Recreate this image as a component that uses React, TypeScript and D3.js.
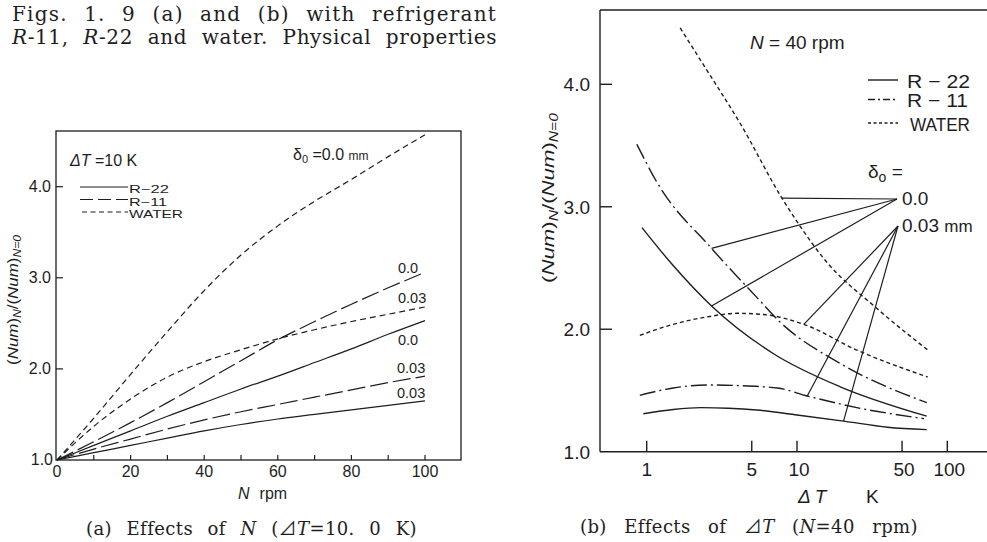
import React, { useLayoutEffect, useRef, useState } from 'react';
import * as d3 from 'd3';

// ---------- Panel (a): effects of N (ΔT = 10 K) ----------
const nRpm = [0, 10, 20, 30, 40, 50, 60, 70, 80, 90, 100];
const waterA_00 = [1.0, 1.46, 1.94, 2.41, 2.86, 3.25, 3.57, 3.84, 4.08, 4.33, 4.57];
const waterA_03 = [1.0, 1.37, 1.67, 1.91, 2.08, 2.21, 2.33, 2.43, 2.52, 2.6, 2.68];
const r11A_00 = [1.0, 1.2, 1.41, 1.63, 1.86, 2.09, 2.32, 2.52, 2.71, 2.89, 3.06];
const r22A_00 = [1.0, 1.16, 1.32, 1.48, 1.63, 1.78, 1.92, 2.07, 2.22, 2.38, 2.53];
const r11A_03 = [1.0, 1.12, 1.23, 1.34, 1.44, 1.53, 1.61, 1.69, 1.77, 1.85, 1.92];
const r22A_03 = [1.0, 1.08, 1.16, 1.24, 1.32, 1.39, 1.45, 1.5, 1.55, 1.6, 1.65];
const xTickLabelsA = [0, 20, 40, 60, 80, 100];
const xMinorTicksA = [10, 20, 30, 40, 50, 60, 70, 80, 90, 100];
const yTicksA = [1, 2, 3, 4];

// ---------- Panel (b): effects of ΔT (N = 40 rpm) ----------
const dTWaterB_00 = [1.67, 2.5, 4.19, 7.94, 10.5, 15, 34, 76];
const waterB_00 = [4.46, 4.12, 3.68, 3.07, 2.84, 2.58, 2.17, 1.82];
const dTWaterB_03 = [0.9, 1.5, 2.5, 4, 6, 11.1, 25, 74];
const waterB_03 = [1.95, 2.04, 2.1, 2.13, 2.12, 2.04, 1.83, 1.61];
const dTR11B_00 = [0.86, 1.17, 2.7, 5.5, 7.7, 19.4, 73];
const r11B_00 = [3.51, 3.2, 2.66, 2.25, 2.06, 1.72, 1.4];
const dTR22B_00 = [0.93, 1.5, 2.7, 6.98, 19.4, 73];
const r22B_00 = [2.83, 2.52, 2.19, 1.8, 1.53, 1.29];
const dTR11B_03 = [0.9, 1.5, 2.5, 4, 7.4, 11.7, 25, 70];
const r11B_03 = [1.46, 1.52, 1.545, 1.54, 1.52, 1.455, 1.36, 1.27];
const dTR22B_03 = [0.95, 1.5, 2.3, 3.5, 5.4, 10, 20.4, 40, 73];
const r22B_03 = [1.31, 1.345, 1.36, 1.355, 1.34, 1.3, 1.25, 1.2, 1.18];
const xTicksB = [1, 5, 10, 50, 100];
const yTicksB = [1, 2, 3, 4];
// leader-line targets (ΔT where each leader meets its curve)
const leaderDT_00 = [7.94, 2.7, 2.7];
const leaderDT_03 = [11.1, 11.7, 20.4];

const INK = '#1e1e1e';
const SANS = "'Liberation Sans', Arial, sans-serif";
const SERIF = "'DejaVu Serif', 'Liberation Serif', 'Noto Sans CJK JP', serif";

function zip(xs: number[], ys: number[]): [number, number][] {
  return xs.map((x, i) => [x, ys[i]]);
}

function interpLog(xs: number[], ys: number[], x: number): number {
  for (let i = 0; i < xs.length - 1; i++) {
    if (x >= xs[i] && x <= xs[i + 1]) {
      const t = (Math.log(x) - Math.log(xs[i])) / (Math.log(xs[i + 1]) - Math.log(xs[i]));
      return ys[i] + t * (ys[i + 1] - ys[i]);
    }
  }
  return ys[ys.length - 1];
}

function Justified(props: {
  x: number;
  y: number;
  width: number;
  fontSize: number;
  letterSpacing?: number;
  children: React.ReactNode;
}) {
  const ref = useRef<SVGTextElement>(null);
  const [ws, setWs] = useState(0);
  const ls = props.letterSpacing || 0;
  useLayoutEffect(() => {
    const el = ref.current;
    if (!el) return;
    el.style.wordSpacing = '0px';
    const len = el.getComputedTextLength();
    const spaces = (el.textContent || '').trim().split(/\s+/).length - 1;
    if (spaces > 0) setWs(Math.max(0, (props.width - len) / spaces));
  }, [props.width]);
  return (
    <text
      ref={ref}
      x={props.x}
      y={props.y}
      fill={INK}
      fontFamily={SERIF}
      fontSize={props.fontSize}
      style={{ wordSpacing: `${ws}px`, letterSpacing: `${ls}px` }}
    >
      {props.children}
    </text>
  );
}

export default function App() {
  // scales panel (a)
  const xA = d3.scaleLinear().domain([0, 100]).range([57, 425]);
  const yA = d3.scaleLinear().domain([1, 4]).range([460, 186.7]);
  const lineA = d3
    .line<[number, number]>()
    .x((d) => xA(d[0]))
    .y((d) => yA(d[1]))
    .curve(d3.curveMonotoneX);

  // scales panel (b)
  const xB = d3.scaleLog().domain([1, 100]).range([646.7, 947.3]);
  const yB = d3.scaleLinear().domain([1, 4]).range([451.7, 84.3]);
  const lineB = d3
    .line<[number, number]>()
    .x((d) => xB(d[0]))
    .y((d) => yB(d[1]))
    .curve(d3.curveMonotoneX);

  const seriesA = [
    { v: waterA_00, dash: '6,4' },
    { v: waterA_03, dash: '6,4' },
    { v: r11A_00, dash: '18,5' },
    { v: r22A_00, dash: '' },
    { v: r11A_03, dash: '18,5' },
    { v: r22A_03, dash: '' },
  ];

  const seriesB = [
    { x: dTWaterB_00, v: waterB_00, dash: '4,3' },
    { x: dTWaterB_03, v: waterB_03, dash: '4,3' },
    { x: dTR11B_00, v: r11B_00, dash: '16,4,2,4' },
    { x: dTR22B_00, v: r22B_00, dash: '' },
    { x: dTR11B_03, v: r11B_03, dash: '16,4,2,4' },
    { x: dTR22B_03, v: r22B_03, dash: '' },
  ];

  const leaders00 = [seriesB[0], seriesB[2], seriesB[3]].map((s, i) => [
    xB(leaderDT_00[i]),
    yB(interpLog(s.x, s.v, leaderDT_00[i])),
  ]);
  const leaders03 = [seriesB[1], seriesB[4], seriesB[5]].map((s, i) => [
    xB(leaderDT_03[i]),
    yB(interpLog(s.x, s.v, leaderDT_03[i])),
  ]);
  const anchor00 = [897, 199];
  const anchor03 = [898, 226];

  const frameA = { l: 56, t: 131, r: 461, b: 460 };
  const frameB = { l: 600, t: 10, b: 451.7, r: 990 };

  return (
    <svg
      width={987}
      height={542}
      viewBox="0 0 987 542"
      style={{ position: 'absolute', left: 0, top: 0, background: '#fff' }}
    >
      <rect x={0} y={0} width={987} height={542} fill="#fff" />

      {/* ---------- top paragraph text ---------- */}
      <Justified x={12} y={21} width={485} fontSize={20} letterSpacing={1.2}>
        Figs. 1. 9 (a) and (b) with refrigerant
      </Justified>
      <Justified x={12} y={44} width={485} fontSize={20} letterSpacing={0.6}>
        <tspan fontStyle="italic">R</tspan>-11, <tspan fontStyle="italic">R</tspan>-22 and water. Physical properties
      </Justified>

      {/* ================= Panel (a) ================= */}
      <g>
        <rect
          x={frameA.l}
          y={frameA.t}
          width={frameA.r - frameA.l}
          height={frameA.b - frameA.t}
          fill="none"
          stroke={INK}
          strokeWidth={1.3}
        />
        {xMinorTicksA.map((t) => (
          <line key={'xa' + t} x1={xA(t)} x2={xA(t)} y1={frameA.b} y2={frameA.b - 5} stroke={INK} strokeWidth={1.2} />
        ))}
        {yTicksA.filter((t) => t > 1).map((t) => (
          <line key={'ya' + t} x1={frameA.l} x2={frameA.l + 7} y1={yA(t)} y2={yA(t)} stroke={INK} strokeWidth={1.2} />
        ))}
        <g fill={INK} fontFamily={SANS} fontSize={16}>
          {xTickLabelsA.map((t) => (
            <text key={'xl' + t} x={xA(t)} y={477} textAnchor="middle">
              {t}
            </text>
          ))}
          {yTicksA.map((t) => (
            <text key={'yl' + t} x={t === 1 ? 53 : 51} y={t === 1 ? 465 : yA(t) + 5.5} textAnchor="end">
              {t.toFixed(1)}
            </text>
          ))}
          <text x={238} y={499}>
            <tspan fontStyle="italic">N</tspan>
            <tspan dx={10}>rpm</tspan>
          </text>
          <text
            transform={`translate(18,300) rotate(-90)`}
            textAnchor="middle"
            fontSize={14}
            textLength={130}
            lengthAdjust="spacingAndGlyphs"
          >
            (<tspan fontStyle="italic">Num</tspan>)<tspan fontSize={10} dy={3} fontStyle="italic">N</tspan>
            <tspan dy={-3}>/(</tspan>
            <tspan fontStyle="italic">Num</tspan>)<tspan fontSize={10} dy={3} fontStyle="italic">N=0</tspan>
          </text>
        </g>

        {/* curves */}
        {seriesA.map((s, i) => (
          <path
            key={'ca' + i}
            d={lineA(zip(nRpm, s.v)) || ''}
            fill="none"
            stroke={INK}
            strokeWidth={1.2}
            strokeDasharray={s.dash || undefined}
          />
        ))}

        {/* in-plot annotations */}
        <g fill={INK} fontFamily={SANS}>
          <text x={70} y={166} fontSize={16}>
            <tspan fontStyle="italic">Δ</tspan>
            <tspan fontStyle="italic">T</tspan> =10 K
          </text>
          <text x={293} y={160} fontSize={16}>
            δ<tspan fontSize={11} dy={3}>0</tspan>
            <tspan dy={-3}> =0.0 </tspan>
            <tspan fontSize={12}>mm</tspan>
          </text>
          <g fontSize={14.5}>
            <text x={398} y={273}>0.0</text>
            <text x={398} y={303}>0.03</text>
            <text x={398} y={345}>0.0</text>
            <text x={397} y={373}>0.03</text>
            <text x={397} y={398}>0.03</text>
          </g>
          {/* legend */}
          <line x1={80} x2={128} y1={187} y2={187} stroke={INK} strokeWidth={1.2} />
          <line x1={80} x2={128} y1={199.5} y2={199.5} stroke={INK} strokeWidth={1.2} strokeDasharray="13,5" />
          <line x1={82} x2={128} y1={212} y2={212} stroke={INK} strokeWidth={1.2} strokeDasharray="5,3.5" />
          <g fontSize={11.5}>
            <text x={129} y={193} textLength={40} lengthAdjust="spacingAndGlyphs">R−22</text>
            <text x={129} y={205.5} textLength={38} lengthAdjust="spacingAndGlyphs">R−11</text>
            <text x={129} y={218} textLength={54} lengthAdjust="spacingAndGlyphs">WATER</text>
          </g>
        </g>
      </g>

      {/* caption (a) */}
      <Justified x={86} y={535} width={331} fontSize={18} letterSpacing={0.4}>
        (a) Effects of <tspan fontStyle="italic">N</tspan> (⊿<tspan fontStyle="italic">T</tspan>=10. 0 K)
      </Justified>

      {/* ================= Panel (b) ================= */}
      <g>
        <line x1={frameB.l} x2={frameB.l} y1={frameB.t} y2={frameB.b} stroke={INK} strokeWidth={1.4} />
        <line x1={frameB.l} x2={frameB.r} y1={frameB.t} y2={frameB.t} stroke={INK} strokeWidth={1.4} />
        <line x1={frameB.l} x2={frameB.r} y1={frameB.b} y2={frameB.b} stroke={INK} strokeWidth={1.6} />
        {xTicksB.map((t) => (
          <line key={'xb' + t} x1={xB(t)} x2={xB(t)} y1={frameB.b} y2={frameB.b - 11} stroke={INK} strokeWidth={1.4} />
        ))}
        {yTicksB.filter((t) => t > 1).map((t) => (
          <line key={'yb' + t} x1={frameB.l} x2={frameB.l + 12} y1={yB(t)} y2={yB(t)} stroke={INK} strokeWidth={1.4} />
        ))}
        <g fill={INK} fontFamily={SANS} fontSize={19}>
          {xTicksB.map((t) => (
            <text key={'xbl' + t} x={xB(t) + (t >= 10 ? 2 : 0)} y={476} textAnchor="middle">
              {t}
            </text>
          ))}
          {yTicksB.map((t) => (
            <text key={'ybl' + t} x={590} y={yB(t) + 7} textAnchor="end">
              {t.toFixed(1)}
            </text>
          ))}
          <text x={798} y={503}>
            <tspan fontStyle="italic">Δ</tspan>
            <tspan dx={4} fontStyle="italic">T</tspan>
          </text>
          <text x={866} y={503}>K</text>
          <text
            transform={`translate(554,198) rotate(-90)`}
            textAnchor="middle"
            fontSize={17}
            textLength={170}
            lengthAdjust="spacingAndGlyphs"
          >
            (<tspan fontStyle="italic">Num</tspan>)<tspan fontSize={12} dy={4} fontStyle="italic">N</tspan>
            <tspan dy={-4}>/(</tspan>
            <tspan fontStyle="italic">Num</tspan>)<tspan fontSize={12} dy={4} fontStyle="italic">N=0</tspan>
          </text>
        </g>

        {/* curves */}
        {seriesB.map((s, i) => (
          <path
            key={'cb' + i}
            d={lineB(zip(s.x, s.v)) || ''}
            fill="none"
            stroke={INK}
            strokeWidth={1.4}
            strokeDasharray={s.dash || undefined}
          />
        ))}

        {/* leader lines */}
        {leaders00.map((p, i) => (
          <line key={'l0' + i} x1={anchor00[0]} y1={anchor00[1]} x2={p[0]} y2={p[1]} stroke={INK} strokeWidth={1.2} />
        ))}
        {leaders03.map((p, i) => (
          <line key={'l3' + i} x1={anchor03[0]} y1={anchor03[1]} x2={p[0]} y2={p[1]} stroke={INK} strokeWidth={1.2} />
        ))}

        <g fill={INK} fontFamily={SANS} fontSize={19}>
          <text x={750} y={49}>
            <tspan fontStyle="italic">N</tspan> = 40 rpm
          </text>
          {/* legend */}
          <line x1={868} x2={898} y1={80} y2={80} stroke={INK} strokeWidth={1.4} />
          <line x1={868} x2={898} y1={99.5} y2={99.5} stroke={INK} strokeWidth={1.4} strokeDasharray="7,3,2,3" />
          <line x1={868} x2={898} y1={123} y2={123} stroke={INK} strokeWidth={1.3} strokeDasharray="3,2.5" />
          <text x={907} y={88} textLength={63} lengthAdjust="spacingAndGlyphs">R − 22</text>
          <text x={907} y={107} textLength={61} lengthAdjust="spacingAndGlyphs">R − 11</text>
          <text x={910} y={131} textLength={60} lengthAdjust="spacingAndGlyphs">WATER</text>
          <text x={868} y={178}>
            δ<tspan fontSize={14} dy={4}>o</tspan>
            <tspan dy={-4}> =</tspan>
          </text>
          <text x={902} y={205}>0.0</text>
          <text x={902} y={232}>
            0.03 <tspan fontSize={17}>mm</tspan>
          </text>
        </g>
      </g>

      {/* caption (b) */}
      <Justified x={580} y={533} width={338} fontSize={18} letterSpacing={0.4}>
        (b) Effects of ⊿<tspan fontStyle="italic">T</tspan> (<tspan fontStyle="italic">N</tspan>=40 rpm)
      </Justified>
    </svg>
  );
}
